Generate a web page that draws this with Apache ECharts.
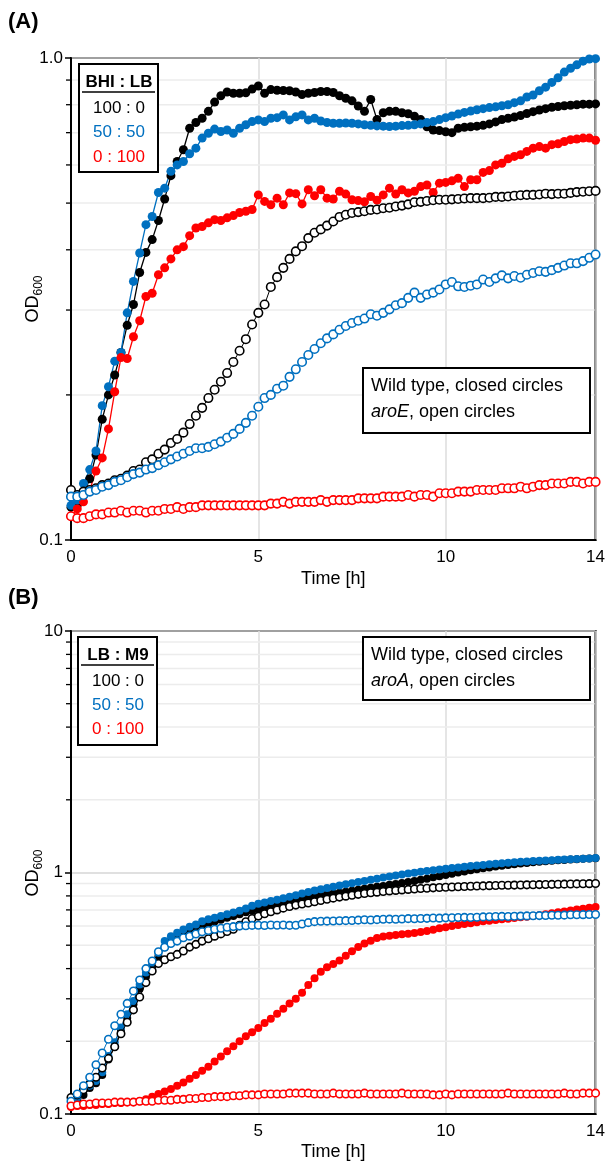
<!doctype html>
<html lang="en">
<head>
    <meta charset="UTF-8">
    <script src="https://cdn.jsdelivr.net/npm/echarts@6/dist/echarts.min.js"></script>
    <title>OD600 growth curves</title>
    <style>
        html, body { margin: 0; padding: 0; background: #fff; }
    </style>
</head>
<body>
<div id="chart" style="width: 608px;height:1162px;"></div>
<script>
    // colours of the three medium ratios
    var cBlack = '#000000';
    var cBlue = '#0070C0';
    var cRed = '#FF0000';

    // legend text
    var ratioHeadA = 'BHI : LB';
    var ratioHeadB = 'LB : M9';
    var ratioLabels = ['100 : 0', '50 : 50', '0 : 100'];

    // tick labels
    var xTicks = [0, 5, 10, 14];
    var yLabelsA = {'-1': '0.1', '0': '1.0'};
    var yLabelsB = {'-1': '0.1', '0': '1', '1': '10'};
    var minorA = [0.2, 0.3, 0.4, 0.5, 0.6, 0.7, 0.8, 0.9];
    var minorB = [0.2, 0.3, 0.4, 0.5, 0.6, 0.7, 0.8, 0.9, 2, 3, 4, 5, 6, 7, 8, 9];

    // reads every 10 min, 0 - 14 h
    var times = [];
    for (var k = 0; k <= 84; k++) times.push(k * 10 / 60);

    // (A) BHI : LB, wild type (closed)
    var aWt100 = [0.117, 0.118, 0.124, 0.134, 0.150, 0.178, 0.200, 0.220, 0.245, 0.279, 0.308, 0.359, 0.395, 0.420, 0.460, 0.510, 0.570,
        0.610, 0.645, 0.715, 0.735, 0.750, 0.775, 0.810, 0.835, 0.850, 0.845, 0.845, 0.847, 0.862, 0.875, 0.845, 0.860, 0.857,
        0.856, 0.855, 0.850, 0.840, 0.845, 0.848, 0.852, 0.852, 0.848, 0.835, 0.825, 0.815, 0.795, 0.775, 0.820, 0.745, 0.770,
        0.775, 0.775, 0.770, 0.766, 0.757, 0.745, 0.720, 0.709, 0.707, 0.703, 0.700, 0.715, 0.718, 0.720, 0.722, 0.725, 0.730,
        0.737, 0.745, 0.750, 0.754, 0.760, 0.767, 0.774, 0.780, 0.785, 0.790, 0.793, 0.796, 0.798, 0.800, 0.802, 0.802, 0.803];
    var aWt50 = [0.118, 0.121, 0.131, 0.140, 0.153, 0.190, 0.208, 0.235, 0.245, 0.296, 0.344, 0.394, 0.451, 0.469, 0.526, 0.537, 0.582,
        0.600, 0.610, 0.633, 0.650, 0.682, 0.698, 0.712, 0.704, 0.709, 0.698, 0.715, 0.727, 0.738, 0.744, 0.738, 0.750, 0.752,
        0.762, 0.744, 0.755, 0.762, 0.744, 0.750, 0.740, 0.735, 0.732, 0.732, 0.733, 0.732, 0.730, 0.727, 0.725, 0.723, 0.722,
        0.721, 0.722, 0.724, 0.725, 0.727, 0.730, 0.735, 0.738, 0.745, 0.752, 0.758, 0.765, 0.771, 0.776, 0.781, 0.785, 0.789,
        0.792, 0.796, 0.800, 0.808, 0.815, 0.830, 0.838, 0.855, 0.870, 0.890, 0.910, 0.935, 0.952, 0.968, 0.985, 0.995, 0.997];
    var aWt0 = [0.112, 0.116, 0.120, 0.127, 0.139, 0.148, 0.170, 0.203, 0.239, 0.238, 0.264, 0.285, 0.320, 0.325, 0.355, 0.367, 0.383,
        0.400, 0.406, 0.428, 0.444, 0.447, 0.455, 0.462, 0.460, 0.466, 0.471, 0.478, 0.481, 0.485, 0.520, 0.504, 0.496, 0.512,
        0.496, 0.525, 0.523, 0.498, 0.533, 0.518, 0.533, 0.512, 0.510, 0.529, 0.522, 0.508, 0.506, 0.503, 0.516, 0.507, 0.520,
        0.537, 0.522, 0.533, 0.525, 0.529, 0.541, 0.545, 0.526, 0.550, 0.552, 0.556, 0.563, 0.541, 0.559, 0.559, 0.579, 0.584,
        0.600, 0.605, 0.618, 0.625, 0.630, 0.640, 0.650, 0.655, 0.650, 0.661, 0.664, 0.671, 0.677, 0.679, 0.682, 0.682, 0.675];
    // (A) aroE (open)
    var aMut100 = [0.127, 0.124, 0.126, 0.127, 0.128, 0.130, 0.131, 0.133, 0.134, 0.136, 0.139, 0.140, 0.145, 0.147, 0.151, 0.154, 0.159,
        0.162, 0.167, 0.174, 0.181, 0.188, 0.197, 0.205, 0.213, 0.222, 0.234, 0.247, 0.261, 0.280, 0.296, 0.308, 0.335, 0.351,
        0.367, 0.383, 0.397, 0.407, 0.423, 0.434, 0.441, 0.449, 0.458, 0.468, 0.473, 0.477, 0.479, 0.481, 0.484, 0.485, 0.488,
        0.489, 0.492, 0.494, 0.497, 0.502, 0.503, 0.505, 0.507, 0.508, 0.508, 0.509, 0.510, 0.511, 0.512, 0.512, 0.512, 0.513,
        0.515, 0.515, 0.516, 0.518, 0.519, 0.520, 0.520, 0.521, 0.523, 0.522, 0.523, 0.523, 0.525, 0.527, 0.528, 0.529, 0.530];
    var aMut50 = [0.123, 0.123, 0.124, 0.126, 0.127, 0.129, 0.130, 0.132, 0.133, 0.135, 0.137, 0.138, 0.140, 0.141, 0.143, 0.145, 0.147,
        0.149, 0.151, 0.153, 0.155, 0.155, 0.156, 0.158, 0.160, 0.163, 0.166, 0.170, 0.175, 0.181, 0.189, 0.197, 0.200, 0.206,
        0.209, 0.218, 0.226, 0.234, 0.242, 0.249, 0.256, 0.262, 0.267, 0.273, 0.278, 0.282, 0.285, 0.288, 0.294, 0.292, 0.296,
        0.301, 0.307, 0.310, 0.318, 0.326, 0.318, 0.323, 0.326, 0.331, 0.339, 0.343, 0.336, 0.335, 0.337, 0.339, 0.347, 0.343,
        0.349, 0.354, 0.349, 0.353, 0.350, 0.355, 0.358, 0.361, 0.360, 0.363, 0.367, 0.371, 0.375, 0.375, 0.379, 0.385, 0.391];
    var aMut0 = [0.112, 0.111, 0.111, 0.112, 0.113, 0.113, 0.114, 0.114, 0.115, 0.114, 0.115, 0.115, 0.114, 0.115, 0.115, 0.116, 0.116,
        0.117, 0.116, 0.117, 0.117, 0.118, 0.118, 0.118, 0.118, 0.118, 0.118, 0.118, 0.118, 0.118, 0.118, 0.118, 0.119, 0.119,
        0.120, 0.119, 0.120, 0.120, 0.120, 0.120, 0.121, 0.120, 0.121, 0.121, 0.121, 0.121, 0.122, 0.122, 0.122, 0.122, 0.123,
        0.123, 0.123, 0.123, 0.124, 0.123, 0.124, 0.124, 0.123, 0.125, 0.125, 0.125, 0.126, 0.126, 0.126, 0.127, 0.127, 0.127,
        0.127, 0.128, 0.128, 0.128, 0.129, 0.128, 0.129, 0.130, 0.130, 0.131, 0.131, 0.131, 0.132, 0.132, 0.131, 0.132, 0.132];

    // (B) LB : M9, wild type (closed)
    var bWt100 = [0.112, 0.115, 0.120, 0.128, 0.134, 0.145, 0.168, 0.190, 0.220, 0.250, 0.285, 0.330, 0.370, 0.410, 0.450, 0.490, 0.515,
        0.535, 0.555, 0.570, 0.585, 0.600, 0.615, 0.627, 0.638, 0.650, 0.660, 0.672, 0.684, 0.695, 0.706, 0.716, 0.726, 0.736,
        0.746, 0.756, 0.766, 0.776, 0.785, 0.794, 0.803, 0.811, 0.818, 0.825, 0.832, 0.840, 0.848, 0.856, 0.864, 0.872, 0.880,
        0.889, 0.897, 0.905, 0.914, 0.923, 0.933, 0.943, 0.955, 0.966, 0.977, 0.988, 0.999, 1.010, 1.021, 1.031, 1.041, 1.050,
        1.059, 1.067, 1.075, 1.083, 1.090, 1.096, 1.102, 1.108, 1.113, 1.118, 1.123, 1.127, 1.131, 1.135, 1.139, 1.143, 1.146];
    var bWt50 = [0.108, 0.117, 0.127, 0.131, 0.137, 0.149, 0.174, 0.198, 0.228, 0.259, 0.294, 0.344, 0.385, 0.423, 0.465, 0.520, 0.545,
        0.563, 0.581, 0.596, 0.609, 0.629, 0.640, 0.650, 0.660, 0.672, 0.683, 0.695, 0.710, 0.728, 0.742, 0.752, 0.762, 0.772,
        0.782, 0.793, 0.805, 0.818, 0.830, 0.842, 0.853, 0.863, 0.873, 0.883, 0.893, 0.903, 0.913, 0.923, 0.933, 0.943, 0.953,
        0.963, 0.972, 0.981, 0.990, 0.998, 1.006, 1.014, 1.021, 1.029, 1.036, 1.043, 1.050, 1.057, 1.063, 1.069, 1.075, 1.082,
        1.088, 1.093, 1.098, 1.103, 1.107, 1.111, 1.115, 1.118, 1.122, 1.125, 1.128, 1.131, 1.134, 1.138, 1.141, 1.144, 1.147];
    var bWt0 = [0.107, 0.108, 0.108, 0.109, 0.109, 0.110, 0.110, 0.111, 0.111, 0.112, 0.112, 0.113, 0.115, 0.118, 0.121, 0.124, 0.127,
        0.131, 0.135, 0.140, 0.145, 0.151, 0.157, 0.165, 0.173, 0.182, 0.191, 0.200, 0.210, 0.218, 0.227, 0.238, 0.248, 0.260,
        0.273, 0.287, 0.300, 0.318, 0.342, 0.365, 0.388, 0.405, 0.418, 0.432, 0.452, 0.472, 0.492, 0.508, 0.522, 0.536, 0.543,
        0.547, 0.551, 0.555, 0.558, 0.562, 0.567, 0.573, 0.580, 0.587, 0.594, 0.600, 0.606, 0.612, 0.617, 0.623, 0.628, 0.632,
        0.636, 0.640, 0.644, 0.648, 0.652, 0.656, 0.660, 0.666, 0.672, 0.678, 0.684, 0.690, 0.696, 0.702, 0.708, 0.714, 0.720];
    // (B) aroA (open)
    var bMut100 = [0.117, 0.120, 0.126, 0.133, 0.142, 0.155, 0.170, 0.190, 0.215, 0.240, 0.270, 0.305, 0.350, 0.391, 0.420, 0.435, 0.448,
        0.458, 0.473, 0.491, 0.504, 0.520, 0.532, 0.545, 0.557, 0.570, 0.582, 0.605, 0.625, 0.645, 0.660, 0.675, 0.688, 0.700,
        0.712, 0.723, 0.733, 0.741, 0.748, 0.757, 0.766, 0.775, 0.783, 0.791, 0.798, 0.805, 0.812, 0.818, 0.824, 0.829, 0.834,
        0.839, 0.843, 0.847, 0.851, 0.855, 0.858, 0.861, 0.864, 0.867, 0.869, 0.871, 0.873, 0.875, 0.877, 0.879, 0.880, 0.882,
        0.883, 0.885, 0.886, 0.887, 0.888, 0.889, 0.890, 0.891, 0.892, 0.893, 0.894, 0.895, 0.896, 0.897, 0.898, 0.899, 0.900];
    var bMut50 = [0.113, 0.121, 0.131, 0.142, 0.160, 0.179, 0.204, 0.232, 0.259, 0.287, 0.323, 0.359, 0.400, 0.430, 0.470, 0.490, 0.508,
        0.520, 0.537, 0.545, 0.556, 0.568, 0.575, 0.582, 0.588, 0.593, 0.597, 0.600, 0.602, 0.604, 0.605, 0.603, 0.606, 0.605,
        0.606, 0.604, 0.605, 0.612, 0.620, 0.626, 0.628, 0.629, 0.630, 0.631, 0.632, 0.633, 0.635, 0.637, 0.636, 0.638, 0.640,
        0.641, 0.640, 0.642, 0.644, 0.643, 0.645, 0.646, 0.648, 0.647, 0.649, 0.650, 0.651, 0.652, 0.651, 0.653, 0.655, 0.656,
        0.657, 0.658, 0.657, 0.659, 0.660, 0.661, 0.662, 0.663, 0.664, 0.665, 0.665, 0.666, 0.668, 0.668, 0.669, 0.670, 0.670];
    var bMut0 = [0.108, 0.109, 0.110, 0.110, 0.111, 0.111, 0.111, 0.112, 0.112, 0.112, 0.112, 0.113, 0.113, 0.113, 0.114, 0.114, 0.114,
        0.115, 0.115, 0.116, 0.116, 0.117, 0.117, 0.118, 0.118, 0.118, 0.119, 0.119, 0.120, 0.120, 0.120, 0.121, 0.121, 0.121,
        0.121, 0.122, 0.122, 0.122, 0.122, 0.121, 0.121, 0.121, 0.122, 0.121, 0.121, 0.121, 0.121, 0.122, 0.121, 0.121, 0.121,
        0.121, 0.121, 0.122, 0.121, 0.121, 0.121, 0.121, 0.120, 0.120, 0.121, 0.120, 0.121, 0.121, 0.121, 0.121, 0.121, 0.121,
        0.121, 0.121, 0.122, 0.121, 0.121, 0.121, 0.121, 0.121, 0.121, 0.121, 0.121, 0.122, 0.121, 0.121, 0.122, 0.122, 0.122];

    var font = 'Liberation Sans';

    function pairs(vals) {
        return vals.map(function (v, i) { return [times[i], v]; });
    }

    function closedLine(vals, color, idx, size) {
        return {
            type: 'line', xAxisIndex: idx, yAxisIndex: idx, data: pairs(vals),
            symbol: 'circle', symbolSize: size, showAllSymbol: true, clip: false, z: 3,
            itemStyle: {color: color},
            lineStyle: {color: color, width: 1.3},
            emphasis: {disabled: true}
        };
    }

    function openLine(vals, color, idx, size) {
        return {
            type: 'line', xAxisIndex: idx, yAxisIndex: idx, data: pairs(vals),
            symbol: 'circle', symbolSize: size, showAllSymbol: true, clip: false, z: 4,
            itemStyle: {color: '#ffffff', borderColor: color, borderWidth: 1.6},
            lineStyle: {color: color, width: 1},
            emphasis: {disabled: true}
        };
    }

    // light grid line + outside tick at each minor log value
    function minorGrid(vals, idx) {
        return {
            type: 'custom', xAxisIndex: idx, yAxisIndex: idx, silent: true, z: 1, clip: false,
            data: vals.map(function (v) { return [0, v]; }),
            encode: {x: 0, y: 1},
            renderItem: function (params, api) {
                var p = api.coord([0, api.value(1)]);
                var cs = params.coordSys;
                return {
                    type: 'group',
                    children: [
                        {type: 'line', shape: {x1: cs.x + 1, y1: p[1], x2: cs.x + cs.width - 1, y2: p[1]},
                            style: {stroke: '#ececec', lineWidth: 1.5}},
                        {type: 'line', shape: {x1: cs.x - 5, y1: p[1], x2: cs.x, y2: p[1]},
                            style: {stroke: '#000', lineWidth: 1.3}}
                    ]
                };
            }
        };
    }

    function xAxisFor(idx, gap) {
        return {
            type: 'value', gridIndex: idx, min: 0, max: 14, interval: 5,
            name: 'Time [h]', nameLocation: 'middle', nameGap: gap,
            nameTextStyle: {color: '#000', fontSize: 18, fontFamily: font},
            axisLine: {lineStyle: {color: '#000', width: 2}},
            axisTick: {show: false},
            axisLabel: {color: '#000', fontSize: 17, fontFamily: font, margin: 9,
                customValues: xTicks},
            splitLine: {show: true, lineStyle: {color: '#dcdcdc', width: 1.5}}
        };
    }

    function yAxisFor(idx, min, max, labels) {
        return {
            type: 'log', logBase: 10, gridIndex: idx, min: min, max: max,
            axisLine: {show: true, lineStyle: {color: '#000', width: 2}},
            axisTick: {show: true, length: 6, lineStyle: {color: '#000', width: 1.5}},
            axisLabel: {
                color: '#000', fontSize: 17, fontFamily: font, margin: 8,
                formatter: function (v) { return labels[String(Math.round(Math.log10(v)))]; }
            },
            splitLine: {show: true, lineStyle: {color: '#d6d6d6', width: 1.5}}
        };
    }

    function boxText(x, y, text, color, bold) {
        return {
            type: 'text', x: x, y: y, z: 21,
            style: {text: text, fill: color, font: (bold ? 'bold ' : '') + '17px ' + font,
                align: 'center', verticalAlign: 'middle'}
        };
    }

    function ratioLegend(x, y, head, dy) {
        var cx = x + 40;
        return [
            {type: 'rect', z: 20, shape: {x: x, y: y, width: 79, height: 108},
                style: {fill: '#fff', stroke: '#000', lineWidth: 2}},
            boxText(cx, y + 18, head, '#000', true),
            {type: 'line', z: 21, shape: {x1: x + 3, y1: y + 28, x2: x + 76, y2: y + 28},
                style: {stroke: '#000', lineWidth: 1.5}},
            boxText(cx, y + 44, ratioLabels[0], cBlack),
            boxText(cx, y + 44 + dy, ratioLabels[1], cBlue),
            boxText(cx, y + 44 + 2 * dy, ratioLabels[2], cRed)
        ];
    }

    function noteBox(x, y, h, gene) {
        return [
            {type: 'rect', z: 20, shape: {x: x, y: y, width: 227, height: h},
                style: {fill: '#fff', stroke: '#000', lineWidth: 2}},
            {type: 'text', x: x + 8, y: y + 18, z: 21,
                style: {text: 'Wild type, closed circles', fill: '#000', font: '18px ' + font, verticalAlign: 'middle'}},
            {type: 'text', x: x + 8, y: y + 44, z: 21,
                style: {text: '{i|' + gene + '}, open circles', fill: '#000', font: '18px ' + font, verticalAlign: 'middle',
                    rich: {i: {fontStyle: 'italic', fontSize: 18, fontFamily: font}}}}
        ];
    }

    function odLabel(y) {
        return {
            type: 'text', x: 33, y: y, rotation: Math.PI / 2, z: 21,
            style: {
                text: '{a|OD}{b|600}', align: 'center', verticalAlign: 'middle',
                rich: {
                    a: {fontSize: 18, fontFamily: font, lineHeight: 24, fill: '#000'},
                    b: {fontSize: 12, fontFamily: font, lineHeight: 12, verticalAlign: 'bottom', fill: '#000'}
                }
            }
        };
    }

    var myChart = echarts.init(document.getElementById('chart'));

    var option = {
        backgroundColor: '#fff',
        animation: false,
        grid: [
            {left: 71, top: 58, width: 525, height: 482, show: true, borderColor: '#000', borderWidth: 2},
            {left: 71, top: 631, width: 525, height: 484, show: true, borderColor: '#000', borderWidth: 2}
        ],
        xAxis: [xAxisFor(0, 30), xAxisFor(1, 29)],
        yAxis: [yAxisFor(0, 0.1, 1, yLabelsA), yAxisFor(1, 0.1, 10, yLabelsB)],
        series: [
            minorGrid(minorA, 0),
            minorGrid(minorB, 1),
            closedLine(aWt100, cBlack, 0, 9),
            closedLine(aWt50, cBlue, 0, 9),
            closedLine(aWt0, cRed, 0, 9),
            openLine(aMut100, cBlack, 0, 8.5),
            openLine(aMut50, cBlue, 0, 8.5),
            openLine(aMut0, cRed, 0, 8.5),
            closedLine(bWt100, cBlack, 1, 8),
            closedLine(bWt50, cBlue, 1, 8),
            closedLine(bWt0, cRed, 1, 8),
            openLine(bMut100, cBlack, 1, 7.5),
            openLine(bMut50, cBlue, 1, 7.5),
            openLine(bMut0, cRed, 1, 7.5)
        ],
        graphic: [].concat(
            [
                {type: 'text', x: 8, y: 22, style: {text: '(A)', font: 'bold 22px ' + font, fill: '#000', verticalAlign: 'middle'}},
                {type: 'text', x: 8, y: 598, style: {text: '(B)', font: 'bold 22px ' + font, fill: '#000', verticalAlign: 'middle'}},
                odLabel(299),
                odLabel(873)
            ],
            ratioLegend(79, 64, ratioHeadA, 24.5),
            ratioLegend(78, 637, ratioHeadB, 24),
            noteBox(363, 368, 65, 'aroE'),
            noteBox(363, 637, 63, 'aroA')
        )
    };

    myChart.setOption(option);
</script>
</body>
</html>
